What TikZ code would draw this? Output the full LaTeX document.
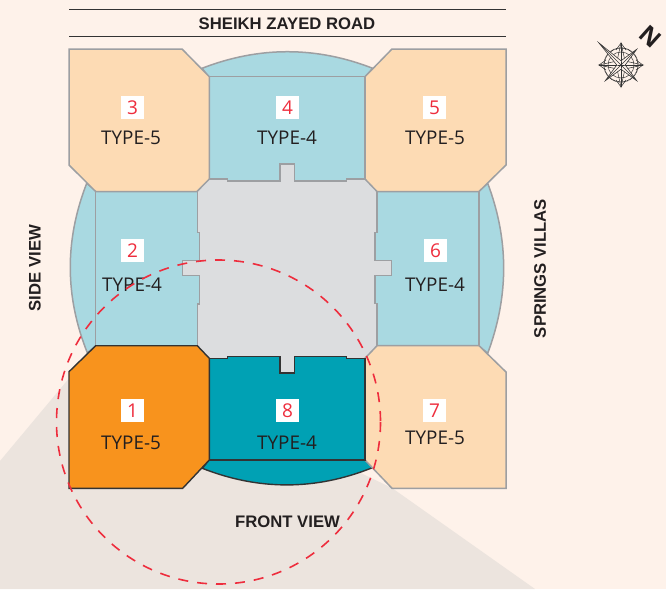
\documentclass[tikz,border=0pt]{standalone}
\usepackage{fontspec}
\setmainfont{Open Sans}
\newfontfamily\capfont{Liberation Sans}
\definecolor{bgc}{HTML}{FEF2EA}
\definecolor{conec}{HTML}{ECE4DE}
\definecolor{peach}{HTML}{FDDBB4}
\definecolor{lblue}{HTML}{A9D9E1}
\definecolor{hlorange}{HTML}{F8931D}
\definecolor{hlteal}{HTML}{00A1B4}
\definecolor{core}{HTML}{DCDDDF}
\definecolor{edgeg}{HTML}{9D9FA2}
\definecolor{edged}{HTML}{333333}
\definecolor{redc}{HTML}{EE2D3D}
\definecolor{inkc}{HTML}{231F20}
\tikzset{
  unit/.style={draw=edgeg,line width=1.5pt,line join=miter},
  hl/.style={draw=edged,line width=1.4pt,line join=miter},
  numbox/.style={fill=white,text=redc,minimum width=23pt,minimum height=23pt,inner sep=0pt,font=\fontsize{19}{19}\selectfont},
  typelab/.style={text=inkc,inner sep=0pt,font=\fontsize{18.9}{19}\selectfont},
  caplab/.style={text=inkc,inner sep=0pt,font=\capfont\fontsize{16.7}{17}\selectfont\bfseries},
}
\begin{document}
\begin{tikzpicture}[x=1pt,y=-1pt]
\useasboundingbox (0,0) rectangle (666,589);
\fill[bgc] (0,0) rectangle (666,589);
\fill[conec] (0,461) -- (96,346) -- (392,488) -- (535,589) -- (0,589) -- cycle;
% road
\draw[edged,line width=1pt] (69,9) -- (506,9);
\draw[edged,line width=1pt] (69,36) -- (506,36);
\node[caplab] (road) at (287,23.5) {SHEIKH ZAYED ROAD};
\node[caplab,rotate=90] (side) at (35,268) {SIDE VIEW};
\node[caplab,rotate=90] (springs) at (540,268.5) {SPRINGS VILLAS};
\node[caplab] (front) at (287.5,521.5) {FRONT VIEW};
% core
\fill[core] (209,160) -- (365,160) -- (377,191) -- (395,191) -- (395,346) -- (377,346) -- (365,380) -- (209,380) -- (197,346) -- (178,346) -- (178,191) -- (197,191) -- cycle;
% arcs
\filldraw[fill=lblue,unit] (202,68.3) .. controls (259,46.2) and (316,46.2) .. (372.7,68.3) -- (365,77) -- (209,77) -- cycle;
\filldraw[fill=lblue,unit] (86.7,183.3) .. controls (64.7,240) and (64.7,296) .. (87.3,352.7) -- (96,346) -- (96,191) -- cycle;
\filldraw[fill=lblue,unit] (487.7,183.3) .. controls (509,240) and (509,296) .. (487.7,353.3) -- (479,346) -- (479,191) -- cycle;
\filldraw[fill=hlteal,hl] (202.3,468.3) .. controls (259,490.6) and (316,490.6) .. (373.3,467.3) -- (365,460) -- (209,460) -- cycle;
% type 4 units
\filldraw[fill=lblue,unit] (209.3,76.7) -- (365,76.7) -- (365,179) -- (346.7,179) -- (346.7,181) -- (294.3,181) -- (294.3,164) -- (280,164) -- (280,181) -- (227.7,181) -- (227.7,179) -- (209.3,179) -- cycle;
\filldraw[fill=lblue,unit] (95.7,191.5) -- (197.3,191.5) -- (197.3,232.7) -- (199.3,232.7) -- (199.3,260.7) -- (182.3,260.7) -- (182.3,275.7) -- (199.3,275.7) -- (199.3,304) -- (197.3,304) -- (197.3,345.7) -- (95.7,345.7) -- cycle;
\filldraw[fill=lblue,unit] (479,191.5) -- (377,191.5) -- (377,232.7) -- (375,232.7) -- (375,260.7) -- (391.7,260.7) -- (391.7,275.3) -- (375,275.3) -- (375,303.7) -- (377,303.7) -- (377,345.7) -- (479,345.7) -- cycle;
% type 5 units
\filldraw[fill=peach,unit] (69,49) -- (182,49) -- (209.3,76.7) -- (209.3,179) -- (197,191.5) -- (95.7,191.5) -- (69,165) -- cycle;
\filldraw[fill=peach,unit] (506,49) -- (392,49) -- (365,76.7) -- (365,179) -- (377,191.5) -- (479,191.5) -- (506,165) -- cycle;
\filldraw[fill=peach,unit] (506,488.3) -- (392,488.3) -- (365,460) -- (365,358.3) -- (377,345.7) -- (479,345.7) -- (506,372) -- cycle;
% highlighted units
\filldraw[fill=hlteal,hl] (209.3,358.3) -- (227.7,358.3) -- (227.7,356.3) -- (280,356.3) -- (280,373) -- (294.7,373) -- (294.7,356.3) -- (346.7,356.3) -- (346.7,358.3) -- (365,358.3) -- (365,460) -- (209.3,460) -- cycle;
\fill[core] (280.7,356) rectangle (294,372.3);
\filldraw[fill=hlorange,hl] (95.7,345.7) -- (197.3,345.7) -- (209.3,358.3) -- (209.3,460) -- (182.7,488.3) -- (69,488.3) -- (69,371.7) -- cycle;
% labels
\node[numbox] (n3) at (132.5,107.5) {3};
\node[numbox] (n4) at (287.5,107.5) {4};
\node[numbox] (n5) at (434.5,107.5) {5};
\node[numbox] (n2) at (132.5,250.5) {2};
\node[numbox] (n6) at (435.5,250.5) {6};
\node[numbox] (n1) at (132.5,410.5) {1};
\node[numbox] (n8) at (287.5,410.5) {8};
\node[numbox] (n7) at (434.5,410.5) {7};
\node[typelab] (t3) at (131,137.5) {TYPE-5};
\node[typelab] (t4) at (287,137.5) {TYPE-4};
\node[typelab] (t5) at (435,137.5) {TYPE-5};
\node[typelab] (t2) at (132,285) {TYPE-4};
\node[typelab] (t6) at (435,285) {TYPE-4};
\node[typelab] (t1) at (131,442.5) {TYPE-5};
\node[typelab] (t8) at (287,442.5) {TYPE-4};
\node[typelab] (t7) at (435,437.5) {TYPE-5};
% dashed circle
\draw[redc,line width=1.6pt,dash pattern=on 10pt off 9pt] (218.5,422) circle[radius=162];
% compass
\begin{scope}[shift={(621,65)},edged,line width=0.5pt]
  \draw[line width=1pt,dash pattern=on 1pt off 0.5pt] (0,0) circle[radius=17];
  \draw (0,0) circle[radius=13];
  \foreach \a in {0,90,180,270}{
    \begin{scope}[rotate=\a]
      \draw (-5,-15) -- (0,-22) -- (5,-15);
      \draw (0,-22) -- (0,0);
      \draw (-4,-4) -- (0,-22) -- (4,-4);
    \end{scope}
  }
  \foreach \a/\r in {45/31,135/22,225/22,315/22}{
    \begin{scope}[rotate=\a]
      \fill[bgc] (-3,-3) -- (0,-\r) -- (3,-3) -- cycle;
      \draw[line width=0.6pt] (-3,-3) -- (0,-\r) -- (3,-3);
      \draw[line width=0.6pt] (0,-\r) -- (0,0);
    \end{scope}
  }
\end{scope}
\node[inner sep=0pt,rotate=-42,text=inkc,font=\fontsize{24}{24}\selectfont\bfseries] (north) at (650,37) {N};
\end{tikzpicture}
\end{document}
